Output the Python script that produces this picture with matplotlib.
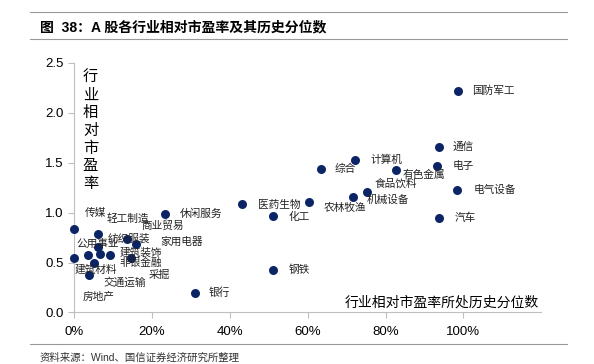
import matplotlib
matplotlib.use("Agg")
import matplotlib.pyplot as plt
from matplotlib.ticker import FuncFormatter

plt.rcParams['font.family'] = ['Liberation Sans', 'Noto Sans CJK SC']

# industry, percentile of relative PE, relative PE
industries = ['国防军工', '通信', '电子', '电气设备', '汽车', '计算机', '综合',
              '有色金属', '食品饮料', '机械设备', '农林牧渔', '医药生物', '化工',
              '钢铁', '银行', '休闲服务', '传媒', '轻工制造', '商业贸易', '家用电器',
              '纺织服装', '公用事业', '建筑装饰', '非银金融', '采掘', '建筑材料',
              '交通运输', '房地产']
pct = [0.986, 0.937, 0.932, 0.985, 0.938, 0.722, 0.633,
       0.827, 0.752, 0.716, 0.604, 0.431, 0.512,
       0.511, 0.310, 0.233, 0.000, 0.060, 0.135, 0.159,
       0.062, 0.036, 0.092, 0.066, 0.146, 0.000,
       0.051, 0.038]
rel_pe = [2.22, 1.66, 1.47, 1.23, 0.95, 1.53, 1.44,
          1.43, 1.21, 1.16, 1.11, 1.09, 0.97,
          0.43, 0.20, 0.99, 0.84, 0.79, 0.74, 0.69,
          0.66, 0.58, 0.58, 0.59, 0.55, 0.55,
          0.50, 0.38]

# label offsets in pixels (dx right, dy up)
label_offsets = [(14, 0), (14, 0), (16, 0), (16, 0), (15, 0), (15, 0), (14, 0),
                 (7, -5), (8, 8), (14, -3), (14, -6), (16, -1), (15, -1),
                 (16, 0), (14, 0), (15, 0), (11, 16), (9, 15), (15, 13), (24, 2),
                 (9, 8), (-12, 11), (10, 2), (19, -9), (18, -17), (0, -12),
                 (9, -20), (-6, -22)]

fig = plt.figure(figsize=(5.94, 3.64), dpi=100)
ax = fig.add_axes([0.125, 0.1415, 0.786, 0.686])

ax.scatter(pct, rel_pe, s=42, color='#0b2466', zorder=3, linewidths=0,
           clip_on=False)
for name, x, y, off in zip(industries, pct, rel_pe, label_offsets):
    ax.annotate(name, (x, y), xytext=off, textcoords='offset pixels',
                ha='left', va='center', fontsize=7.7, color='#222222',
                family=['Noto Sans CJK SC'])

ax.set_xlim(0, 1.2)
ax.set_ylim(0, 2.5)
ax.set_xticks([0, 0.2, 0.4, 0.6, 0.8, 1.0])
ax.set_yticks([0, 0.5, 1.0, 1.5, 2.0, 2.5])
ax.xaxis.set_major_formatter(FuncFormatter(lambda v, p: f"{v:.0%}"))
ax.yaxis.set_major_formatter(FuncFormatter(lambda v, p: f"{v:.1f}"))
ax.tick_params(labelsize=9.5, color='#bfbfbf', length=4)
ax.tick_params(axis='x', pad=6)
for side in ['top', 'right']:
    ax.spines[side].set_visible(False)
for side in ['left', 'bottom']:
    ax.spines[side].set_color('#bfbfbf')

ax.text(0.035, 0.975, "\n".join("行业相对市盈率"), transform=ax.transAxes,
        ha='center', va='top', fontsize=11, linespacing=1.05,
        family=['Noto Sans CJK SC'])
ax.text(0.995, 0.01, "行业相对市盈率所处历史分位数", transform=ax.transAxes,
        ha='right', va='bottom', fontsize=10, family=['Noto Sans CJK SC'])

# title and source
fig.text(0.067, 0.925, "图  38：A 股各行业相对市盈率及其历史分位数", fontsize=10,
         fontweight='bold', va='center', ha='left')
fig.add_artist(plt.Line2D([0.05, 0.955], [0.967, 0.967], color='#999999', lw=0.8))
fig.add_artist(plt.Line2D([0.05, 0.955], [0.893, 0.893], color='#999999', lw=0.8))
fig.add_artist(plt.Line2D([0.05, 0.955], [0.055, 0.055], color='#999999', lw=0.8))
fig.text(0.067, 0.017, "资料来源：Wind、国信证券经济研究所整理", fontsize=7.5,
         va='center', ha='left', color='#333333')

fig.savefig("out.png", dpi=100)
